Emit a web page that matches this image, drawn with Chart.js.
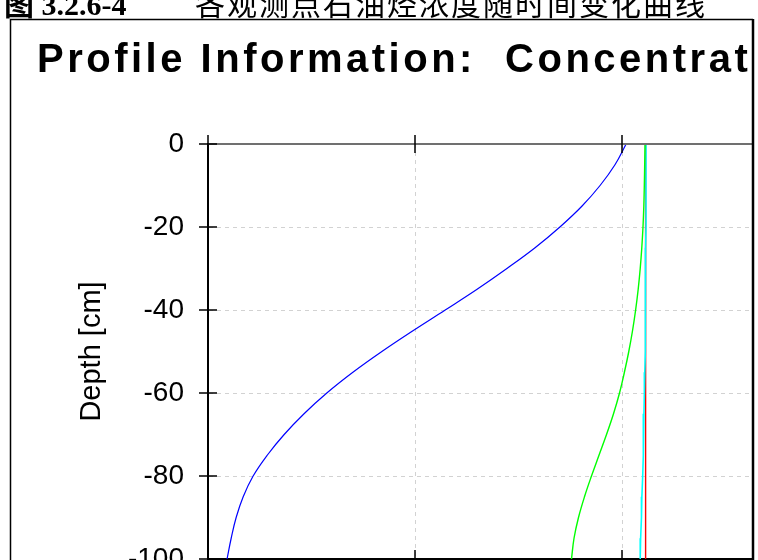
<!DOCTYPE html>
<html>
<head>
<meta charset="utf-8">
<script src="https://cdn.jsdelivr.net/npm/chart.js@4.4.1/dist/chart.umd.min.js"></script>
<style>
  html, body { margin: 0; padding: 0; background: #fff; overflow: hidden; }
  #wrap { position: relative; width: 758px; height: 560px; overflow: hidden; }
  #profile-chart { position: absolute; left: 0; top: 0; }
  .cap { position: absolute; top: -20px; line-height: 30px; white-space: nowrap; color: #000; }
  .cap-num { left: 4px; font: bold 30px "Liberation Serif", "Noto Sans CJK SC", serif; }
  .cap-cn { left: 195px; font: 30px "Noto Sans CJK SC", sans-serif; letter-spacing: 2px; }
</style>
</head>
<body>
<div id="wrap">
  <canvas id="profile-chart" width="758" height="600"></canvas>
  <div class="cap cap-num">图 3.2.6-4</div>
  <div class="cap cap-cn">各观测点石油烃浓度随时间变化曲线</div>
</div>
<script>
// depth of each profile node [cm]
const depthCm = [0, -5, -10, -15, -20, -25, -30, -35, -40, -45, -50,
                 -55, -60, -65, -70, -75, -80, -85, -90, -95, -100];

// concentration at each depth, one array per output time
const concBlue  = [1.010, 0.983, 0.947, 0.903, 0.850, 0.790, 0.722, 0.650, 0.573, 0.495, 0.420,
                   0.350, 0.287, 0.232, 0.184, 0.143, 0.109, 0.085, 0.068, 0.056, 0.046];
const concGreen = [1.0556, 1.0548, 1.0539, 1.0527, 1.0507, 1.0478, 1.0440, 1.0391, 1.0329, 1.0254, 1.0164,
                   1.0058, 0.9940, 0.9795, 0.9626, 0.9444, 0.9263, 0.9094, 0.8949, 0.8841, 0.8780];
const concCyan  = [1.058, 1.058, 1.058, 1.058, 1.058, 1.057, 1.057, 1.057, 1.056, 1.056, 1.056,
                   1.055, 1.054, 1.053, 1.052, 1.051, 1.050, 1.048, 1.047, 1.045, 1.044];
const concRed   = [1.057, 1.057, 1.057, 1.057, 1.057, 1.057, 1.057, 1.057, 1.057, 1.057, 1.057,
                   1.057, 1.057, 1.057, 1.057, 1.057, 1.057, 1.057, 1.057, 1.057, 1.057];

const xTicks = [0, 0.5, 1.0];
const yTicks = [0, -20, -40, -60, -80, -100];
const titleText = 'Profile Information:  Concentration';

const FONT = '"Liberation Sans", Arial, sans-serif';

const toPoints = (conc) => conc.map((c, i) => ({ x: c, y: depthCm[i] }));

// title, crossing ticks, plot top edge and outer frame
const profileDecor = {
    id: 'profileDecor',
    afterDraw(chart) {
        const { ctx, chartArea: a, scales: { x, y } } = chart;
        ctx.save();

        // plot top edge
        ctx.strokeStyle = '#707070';
        ctx.lineWidth = 2;
        ctx.beginPath();
        ctx.moveTo(a.left, a.top);
        ctx.lineTo(a.right, a.top);
        ctx.stroke();

        // ticks crossing the axes
        ctx.strokeStyle = '#000';
        ctx.lineWidth = 1.5;
        ctx.beginPath();
        yTicks.forEach(v => {
            const py = y.getPixelForValue(v);
            ctx.moveTo(a.left - 9, py);
            ctx.lineTo(a.left + 9, py);
        });
        xTicks.forEach(v => {
            const px = x.getPixelForValue(v);
            ctx.moveTo(px, a.top - 9);
            ctx.lineTo(px, a.top + 9);
            ctx.moveTo(px, a.bottom - 9);
            ctx.lineTo(px, a.bottom + 9);
        });
        ctx.stroke();

        // title
        ctx.fillStyle = '#000';
        ctx.font = 'bold 40px ' + FONT;
        ctx.letterSpacing = '3.5px';
        ctx.textBaseline = 'alphabetic';
        ctx.textAlign = 'left';
        ctx.fillText(titleText, 37, 72);
        ctx.letterSpacing = '0px';

        // cropped right side + frame
        ctx.fillStyle = '#fff';
        ctx.fillRect(754, 0, chart.width - 754, chart.height);
        ctx.strokeStyle = '#000';
        ctx.lineWidth = 1.5;
        ctx.beginPath();
        ctx.moveTo(10.5, chart.height);
        ctx.lineTo(10.5, 19.5);
        ctx.lineTo(753, 19.5);
        ctx.stroke();
        ctx.lineWidth = 2.5;
        ctx.beginPath();
        ctx.moveTo(753, 19);
        ctx.lineTo(753, chart.height);
        ctx.stroke();

        ctx.restore();
    }
};

const edgeAware = (edges) => (c) =>
    (c.tick && edges.includes(c.tick.value)) ? 'rgba(0,0,0,0)' : '#d2d2d2';

new Chart(document.getElementById('profile-chart'), {
    type: 'scatter',
    data: {
        datasets: [
            { label: 'T1', data: toPoints(concBlue),  borderColor: '#0000ff', borderWidth: 1.2, tension: 0.4 },
            { label: 'T2', data: toPoints(concGreen), borderColor: '#00ff00', borderWidth: 1.4, tension: 0.4 },
            { label: 'T3', data: toPoints(concCyan),  borderColor: '#00ffff', borderWidth: 1.6, tension: 0 },
            { label: 'T4', data: toPoints(concRed),   borderColor: '#ff0000', borderWidth: 1.4, tension: 0 }
        ].map(ds => ({ ...ds, showLine: true, pointRadius: 0, fill: false }))
    },
    options: {
        responsive: false,
        animation: false,
        events: [],
        layout: { padding: { left: 0, right: 6, top: 144, bottom: 0 } },
        plugins: {
            legend: { display: false },
            tooltip: { enabled: false },
            title: { display: false }
        },
        scales: {
            x: {
                type: 'linear',
                position: 'bottom',
                min: 0,
                max: 1.314,
                afterBuildTicks: (scale) => { scale.ticks = xTicks.map(v => ({ value: v })); },
                afterFit: (scale) => { scale.height = 41; },
                grid: { color: edgeAware([0]), lineWidth: 1, drawTicks: false },
                border: { display: true, color: '#000', width: 2, dash: [4, 4] },
                ticks: { color: '#000', padding: 14, font: { size: 28, family: FONT } }
            },
            y: {
                type: 'linear',
                min: -100,
                max: 0,
                afterBuildTicks: (scale) => { scale.ticks = yTicks.map(v => ({ value: v })); },
                afterFit: (scale) => { scale.width = 208; },
                grid: { color: edgeAware([0, -100]), lineWidth: 1, drawTicks: false },
                border: { display: true, color: '#000', width: 2, dash: [4, 4] },
                ticks: { color: '#000', padding: 24, font: { size: 28, family: FONT } },
                title: {
                    display: true,
                    text: 'Depth [cm]',
                    color: '#000',
                    font: { size: 29, family: FONT },
                    padding: { top: 75, bottom: 0 }
                }
            }
        }
    },
    plugins: [profileDecor]
});
</script>
</body>
</html>
